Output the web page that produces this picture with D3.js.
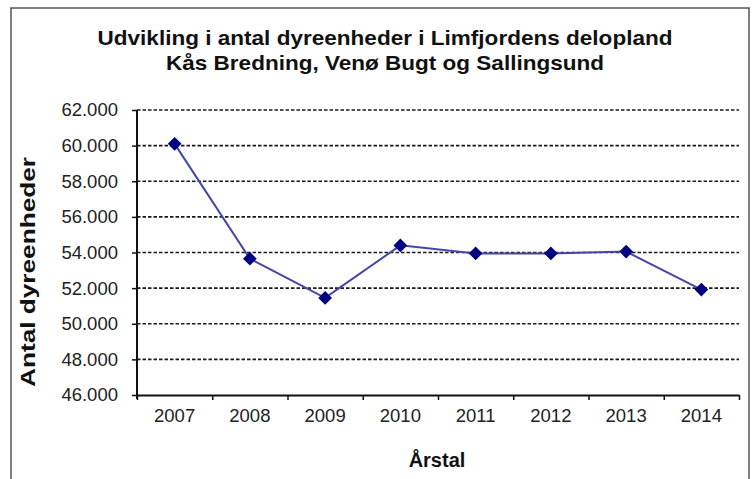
<!DOCTYPE html>
<html>
<head>
<meta charset="utf-8">
<script src="https://cdn.jsdelivr.net/npm/d3@7"></script>
<style>
  body { margin: 0; background: #fff; }
  svg { display: block; font-family: "Liberation Sans", Arial, sans-serif; }
</style>
</head>
<body>
<div id="chart"></div>
<script>
const years = ['2007', '2008', '2009', '2010', '2011', '2012', '2013', '2014'];
const units = [60100, 53650, 51450, 54400, 53950, 53950, 54050, 51920];
const yTicks = [46000, 48000, 50000, 52000, 54000, 56000, 58000, 60000, 62000];
const titleLines = ['Udvikling i antal dyreenheder i Limfjordens delopland', 'Kås Bredning, Venø Bugt og Sallingsund'];

const W = 754, H = 479;
const plot = {left: 137, right: 739, top: 110, bottom: 395};

let svg = d3.select('#chart').append('svg')
  .attr('width', W)
  .attr('height', H);

// outer frame (bottom edge runs off the picture)
svg.append('path')
  .attr('d', `M11,${H} V8 H749 V${H}`)
  .attr('fill', 'none')
  .attr('stroke', '#555')
  .attr('stroke-width', 1.5);

let x = d3.scaleBand()
  .domain(years)
  .range([plot.left, plot.right])
  .padding(0);
let xEdge = d3.scaleLinear()
  .domain([0, years.length])
  .range([plot.left, plot.right]);
let y = d3.scaleLinear()
  .domain([46000, 62000])
  .range([plot.bottom, plot.top]);

let fmt = d3.formatLocale({decimal: ',', thousands: '.', grouping: [3], currency: ['', '']}).format(',');

// gridlines
svg.append('g')
  .selectAll('line')
  .data(yTicks.filter(d => d > 46000))
  .enter().append('line')
  .attr('x1', plot.left)
  .attr('x2', plot.right)
  .attr('y1', d => y(d))
  .attr('y2', d => y(d))
  .attr('stroke', '#1a1a1a')
  .attr('stroke-width', 1.6)
  .attr('stroke-dasharray', '3.5,2');

// y axis
let gy = svg.append('g')
  .attr('transform', `translate(${plot.left},0)`)
  .call(d3.axisLeft(y).tickValues(yTicks).tickFormat(fmt).tickSize(5).tickPadding(14));
gy.select('.domain').attr('stroke', '#111').attr('stroke-width', 2).attr('d', `M0,${plot.top}V${plot.bottom + 4}`);
gy.selectAll('.tick line').attr('stroke', '#111').attr('stroke-width', 1.5);
gy.selectAll('.tick text')
  .attr('font-size', 18.5)
  .attr('fill', '#222')
  .attr('font-family', '"Liberation Sans", Arial, sans-serif');

// x axis: ticks on category edges
let gxe = svg.append('g')
  .attr('transform', `translate(0,${plot.bottom})`)
  .call(d3.axisBottom(xEdge).tickValues(d3.range(years.length + 1)).tickFormat('').tickSize(5).tickSizeOuter(0));
gxe.select('.domain').attr('stroke', '#111').attr('stroke-width', 2);
gxe.selectAll('.tick line').attr('stroke', '#111').attr('stroke-width', 1.5);

let gx = svg.append('g')
  .attr('transform', `translate(0,${plot.bottom})`)
  .call(d3.axisBottom(x).tickSize(0).tickPadding(14));
gx.select('.domain').remove();
gx.selectAll('.tick text')
  .attr('font-size', 18.5)
  .attr('fill', '#222')
  .attr('font-family', '"Liberation Sans", Arial, sans-serif');

// line
let cx = d => x(d) + x.bandwidth() / 2;
svg.append('path')
  .datum(years)
  .attr('fill', 'none')
  .attr('stroke', '#4646a6')
  .attr('stroke-width', 2)
  .attr('d', d3.line().x(d => cx(d)).y((d, i) => y(units[i])));

svg.append('g')
  .selectAll('path')
  .data(years)
  .enter().append('path')
  .attr('d', d3.symbol().type(d3.symbolDiamond2).size(120))
  .attr('transform', (d, i) => `translate(${cx(d)},${y(units[i])})`)
  .attr('fill', '#000080');

// title
svg.append('g')
  .selectAll('text')
  .data(titleLines)
  .enter().append('text')
  .attr('x', 385)
  .attr('y', (d, i) => 45 + i * 25)
  .attr('text-anchor', 'middle')
  .attr('font-size', 21)
  .attr('font-weight', 'bold')
  .attr('fill', '#111')
  .attr('textLength', (d, i) => i === 0 ? 575 : 438)
  .attr('lengthAdjust', 'spacingAndGlyphs')
  .text(d => d);

// axis titles
svg.append('text')
  .attr('transform', 'translate(35,272) rotate(-90)')
  .attr('text-anchor', 'middle')
  .attr('font-size', 20)
  .attr('font-weight', 'bold')
  .attr('fill', '#111')
  .attr('textLength', 230)
  .attr('lengthAdjust', 'spacingAndGlyphs')
  .text('Antal dyreenheder');

svg.append('text')
  .attr('x', 437)
  .attr('y', 467)
  .attr('text-anchor', 'middle')
  .attr('font-size', 20)
  .attr('font-weight', 'bold')
  .attr('fill', '#111')
  .text('Årstal');
</script>
</body>
</html>
